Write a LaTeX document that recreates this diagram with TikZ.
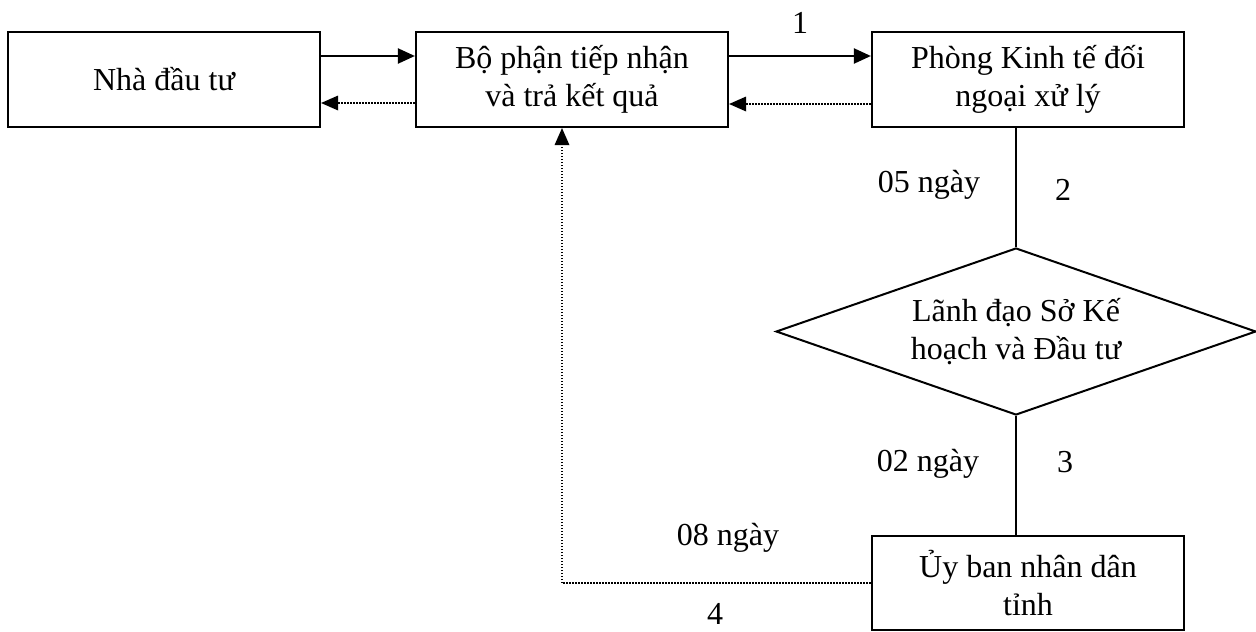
\documentclass[tikz,border=0pt]{standalone}
\usepackage{fontspec}
\setmainfont{Liberation Serif}
\usetikzlibrary{arrows.meta,shapes.geometric}
\tikzset{
  box/.style={draw, line width=2.2pt, rectangle, inner sep=0pt, align=center, minimum width=312pt},
  decision/.style={draw, line width=2pt, diamond, inner sep=0pt, align=center, aspect=2.87, minimum width=480pt, minimum height=167pt},
  link/.style={line width=2.2pt},
  flow/.style={line width=2.2pt, -{Triangle[length=17pt,width=15pt]}},
  back/.style={line width=1.5pt, dash pattern=on 1.5pt off 1.5pt, -{Triangle[length=17pt,width=15pt,line width=0pt]}},
  backline/.style={line width=1.5pt, dash pattern=on 1.5pt off 1.5pt},
  lbl/.style={anchor=base, inner sep=0pt}
}
\begin{document}
\begin{tikzpicture}[x=1pt, y=-1pt, font=\fontsize{32}{38}\selectfont]
\useasboundingbox (0,0) rectangle (1256,632);
\node[box, minimum height=95pt] (nha) at (164,79.5) {Nhà đầu tư};
\node[box, minimum height=95pt] (bp) at (572,79.5) {Bộ phận tiếp nhận\\và trả kết quả};
\node[box, minimum height=95pt] (phong) at (1028,79.5) {Phòng Kinh tế đối\\ngoại xử lý};
\node[decision] (dia) at (1016,331.5) {Lãnh đạo Sở Kế\\hoạch và Đầu tư};
\node[box, minimum height=94pt] (ub) at (1028,583) {Ủy ban nhân dân\\tỉnh};
\coordinate (turn) at (562,583);

\draw[flow] (nha.east |- 0,56) -- (bp.west |- 0,56);
\draw[back] (bp.west |- 0,103) -- (nha.east |- 0,103);
\draw[flow] (bp.east |- 0,56) -- (phong.west |- 0,56);
\draw[back] (phong.west |- 0,104) -- (bp.east |- 0,104);
\draw[link] (dia.north |- phong.south) -- (dia.north);
\draw[link] (dia.south) -- (dia.south |- ub.north);
\draw[backline] (ub.west) -- (turn);
\draw[back] (turn) -- (turn |- bp.south);

\node[lbl] (n1) at (800,33) {1};
\node[lbl] (d5) at (929,192) {05 ngày};
\node[lbl] (n2) at (1063,200) {2};
\node[lbl] (d2) at (928,471) {02 ngày};
\node[lbl] (n3) at (1065,472) {3};
\node[lbl] (d8) at (728,545) {08 ngày};
\node[lbl] (n4) at (715,624) {4};
\end{tikzpicture}
\end{document}
